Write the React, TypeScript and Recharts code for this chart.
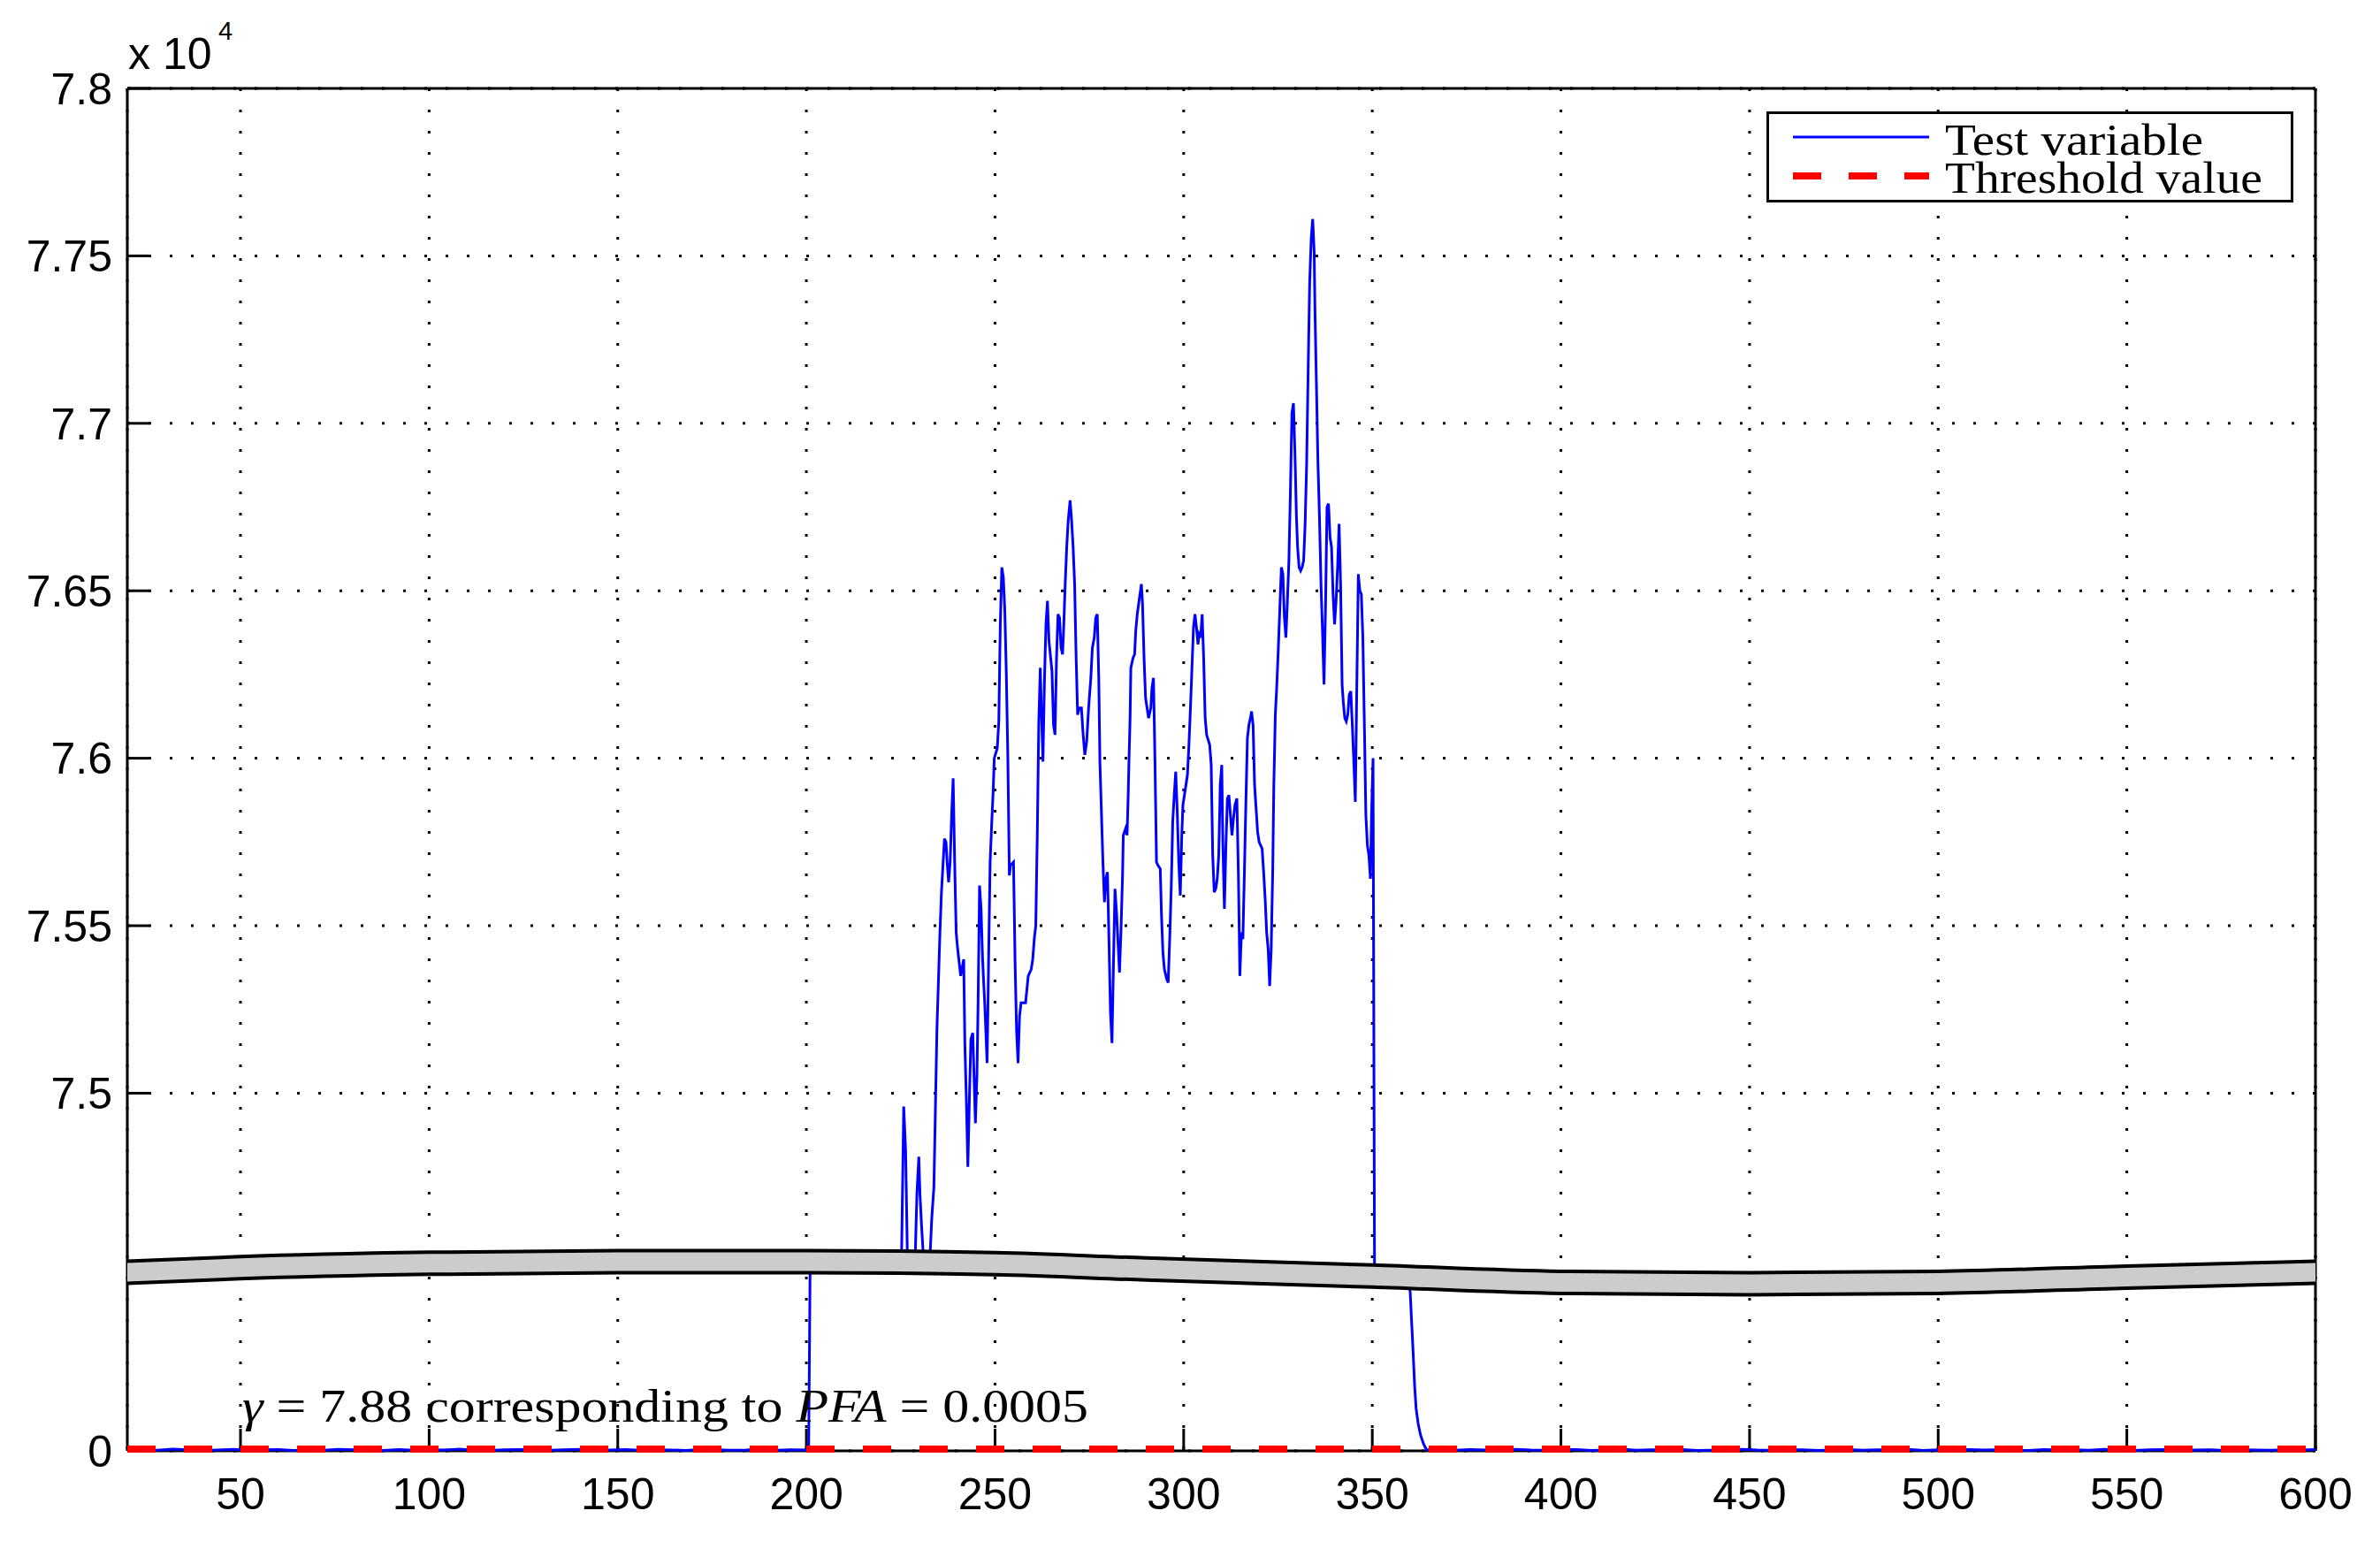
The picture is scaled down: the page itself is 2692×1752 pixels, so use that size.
import { Area, CartesianGrid, ComposedChart, Legend, Line, XAxis, YAxis } from 'recharts'

// test variable before the burst, raw units, x = 20, 24, ... 200
const quietBefore = [
  4, 6, 3, 8, 5, 2, 4, 7, 3, 5, 6, 2, 4, 3, 7, 5, 4, 2, 6, 3, 5, 4, 8, 3, 2, 5, 6, 4, 3, 5, 7, 2, 4, 6, 3, 5,
  4, 2, 6, 5, 3, 4, 7, 3, 5, 4,
]

// jump into the break (raw units, hidden under the band)
const riseIn: [number, number][] = [
  [200.6, 2], [201, 74100], [208, 74200], [216, 74150], [224.6, 74250], [225.2, 74300],
]

// burst above the break, [x, value x 1e4]
const burstRise: [number, number][] = [
  [225.8, 7.496], [226.3, 7.483], [226.8, 7.44], [228.8, 7.44], [229.3, 7.47], [229.8, 7.481], [230.1, 7.47],
  [230.5, 7.461], [231.1, 7.44], [232.7, 7.44], [233.2, 7.462], [233.8, 7.472], [234.6, 7.519], [235.4, 7.548],
  [235.8, 7.56], [236.6, 7.576], [237.0, 7.575], [237.3, 7.569], [237.7, 7.563], [238.1, 7.569], [238.5, 7.583],
  [238.9, 7.594], [239.3, 7.569], [239.7, 7.548], [240.1, 7.543], [240.9, 7.535], [241.7, 7.54], [242.0, 7.515],
  [242.4, 7.498], [242.8, 7.478], [243.2, 7.498], [243.6, 7.516], [244.1, 7.518], [244.8, 7.491], [245.2, 7.505],
  [245.5, 7.526], [245.9, 7.562], [246.3, 7.555], [246.7, 7.54], [247.3, 7.526], [247.9, 7.509], [248.3, 7.54],
  [248.7, 7.569], [249.1, 7.58], [249.5, 7.59], [249.8, 7.6], [250.6, 7.603], [251.0, 7.611], [251.4, 7.64],
  [251.8, 7.657], [252.2, 7.654], [252.6, 7.644], [253.0, 7.625], [253.4, 7.6], [253.8, 7.565], [254.1, 7.568],
  [254.9, 7.569], [255.3, 7.54], [255.7, 7.519], [256.1, 7.509], [256.5, 7.523], [256.9, 7.527], [258.1, 7.527],
  [258.8, 7.535], [259.6, 7.537], [260.0, 7.54], [260.4, 7.546], [260.8, 7.55], [261.2, 7.577], [261.6, 7.611],
  [262.0, 7.627], [262.3, 7.614], [262.7, 7.599], [263.1, 7.623], [263.5, 7.64], [263.9, 7.647], [264.3, 7.635],
]

const burstMiddle: [number, number][] = [
  [265.1, 7.626], [265.5, 7.61], [265.9, 7.607], [266.3, 7.63], [266.7, 7.643], [267.1, 7.642], [267.5, 7.633],
  [267.9, 7.631], [268.2, 7.639], [268.6, 7.652], [269.0, 7.663], [269.4, 7.671], [269.9, 7.677], [270.3, 7.671],
  [270.7, 7.663], [271.1, 7.652], [271.5, 7.63], [271.9, 7.613], [272.3, 7.615], [272.9, 7.615], [273.3, 7.608],
  [273.8, 7.601], [274.3, 7.605], [274.8, 7.615], [275.4, 7.624], [275.8, 7.633], [276.3, 7.636], [276.7, 7.642],
  [277.1, 7.643], [277.5, 7.624], [277.8, 7.599], [278.2, 7.584], [278.6, 7.569], [279.0, 7.557], [279.4, 7.564],
  [279.8, 7.566], [280.2, 7.546], [280.6, 7.524], [281.0, 7.515], [281.4, 7.539], [281.8, 7.561], [282.2, 7.554],
  [282.6, 7.545], [283.0, 7.536], [283.4, 7.549], [283.8, 7.565], [284.0, 7.577], [284.6, 7.579], [285.0, 7.577],
  [285.3, 7.589], [285.5, 7.599], [285.8, 7.612], [286.0, 7.627], [286.6, 7.63], [287.0, 7.631], [287.3, 7.638],
  [287.7, 7.643], [288.3, 7.648], [288.8, 7.652], [289.1, 7.646], [289.5, 7.63], [289.9, 7.618], [290.3, 7.615],
  [290.7, 7.612], [291.3, 7.615], [291.6, 7.621], [292.0, 7.624], [292.4, 7.599], [292.8, 7.569], [293.2, 7.568],
  [293.8, 7.567], [294.1, 7.554], [294.5, 7.542], [294.9, 7.537], [295.5, 7.534], [295.9, 7.533], [296.3, 7.546],
  [296.7, 7.561], [297.1, 7.581], [297.5, 7.589], [297.9, 7.596], [298.3, 7.584], [298.7, 7.569], [299.1, 7.559],
  [299.5, 7.577], [299.8, 7.586], [300.2, 7.589], [300.6, 7.592], [301.0, 7.595], [301.4, 7.604], [301.8, 7.615],
  [302.2, 7.627], [302.6, 7.639], [303.0, 7.643], [303.4, 7.639], [303.8, 7.634], [304.1, 7.637], [304.5, 7.636],
  [304.9, 7.643], [305.3, 7.63], [305.7, 7.612], [306.1, 7.607], [306.9, 7.604],
]

const burstPeak: [number, number][] = [
  [307.3, 7.598], [307.7, 7.571], [308.1, 7.56], [308.5, 7.561], [308.9, 7.564], [309.3, 7.571], [309.7, 7.592],
  [310.1, 7.598], [310.4, 7.574], [310.8, 7.555], [311.2, 7.574], [311.6, 7.588], [312.0, 7.589], [312.4, 7.583],
  [312.8, 7.577], [313.2, 7.582], [313.6, 7.586], [314.1, 7.588], [314.5, 7.566], [314.9, 7.535], [315.3, 7.548],
  [315.7, 7.546], [316.1, 7.566], [316.5, 7.587], [316.9, 7.606], [317.3, 7.61], [317.7, 7.612], [318.0, 7.614],
  [318.4, 7.61], [318.8, 7.592], [319.2, 7.585], [319.6, 7.578], [320.0, 7.575], [320.4, 7.574], [320.8, 7.573],
  [321.2, 7.566], [321.6, 7.558], [322.0, 7.548], [322.4, 7.543], [322.8, 7.532], [323.2, 7.543], [323.6, 7.566],
  [323.9, 7.592], [324.3, 7.613], [324.7, 7.622], [325.1, 7.633], [325.5, 7.645], [325.9, 7.657], [326.3, 7.655],
  [326.7, 7.642], [327.1, 7.636], [327.5, 7.647], [327.9, 7.659], [328.3, 7.68], [328.7, 7.703], [329.1, 7.706],
  [329.5, 7.691], [329.9, 7.672], [330.2, 7.663], [330.6, 7.657], [331.0, 7.656], [331.4, 7.657], [331.8, 7.659],
  [332.2, 7.67], [332.6, 7.688], [333.0, 7.716], [333.4, 7.742], [333.8, 7.755], [334.2, 7.761], [334.6, 7.751],
  [334.8, 7.734], [335.2, 7.711], [335.6, 7.688], [336.0, 7.672], [336.4, 7.652], [336.8, 7.638], [337.2, 7.622],
  [337.6, 7.645], [338.0, 7.675], [338.4, 7.676], [338.8, 7.666], [339.2, 7.663], [339.6, 7.649], [340.0, 7.64],
  [340.4, 7.647], [340.8, 7.657], [341.2, 7.67], [341.6, 7.652], [342.0, 7.622], [342.3, 7.617], [342.7, 7.612],
  [343.1, 7.611], [343.5, 7.613], [343.9, 7.619], [344.3, 7.62], [344.7, 7.61], [345.1, 7.599], [345.5, 7.587],
  [345.9, 7.622], [346.3, 7.655], [346.7, 7.65], [347.1, 7.649], [347.5, 7.636], [347.9, 7.61], [348.3, 7.583],
  [348.7, 7.574], [349.1, 7.571], [349.5, 7.564], [349.8, 7.583], [350.2, 7.6],
]

// drop back through the break and decay to zero (raw units)
const fallOut: [number, number][] = [
  [350.6, 70000], [354, 42000], [357, 15000], [359.6, 2000], [360.05, 734], [360.45, 590], [360.83, 455],
  [361.22, 303], [361.61, 197], [362.15, 127], [362.78, 74], [363.56, 33], [364.34, 6], [366, 4],
]

// after the burst, raw units, x = 368, 372, ... 600
const quietAfter = [
  5, 3, 6, 4, 2, 7, 4, 3, 5, 6, 2, 4, 8, 3, 5, 4, 6, 2, 3, 5, 7, 4, 3, 6, 5, 2, 4, 6, 3, 5, 4, 7, 2, 5, 3, 6,
  4, 5, 3, 2, 6, 4, 5, 3, 7, 4, 2, 5, 6, 3, 4, 5, 2, 6, 4, 3, 5, 4, 6,
]

const THRESHOLD = 7.88

const xTicks = [50, 100, 150, 200, 250, 300, 350, 400, 450, 500, 550, 600]
const yTicks = [7.5, 7.55, 7.6, 7.65, 7.7, 7.75, 7.8]

// axis break band, centre in units of 1e4
const bandX = [20, 50, 100, 150, 200, 250, 290, 350, 400, 450, 500, 550, 600]
const bandMid = [7.4465, 7.4479, 7.4492, 7.4497, 7.4497, 7.4491, 7.4475, 7.4454, 7.4435, 7.4431, 7.4435, 7.4451, 7.4465]

// broken axis: lower part 0..LOWER_MAX below the band, upper part in 1e4 units
const ZERO_D = 7.3932
const LOWER_TOP_D = 7.4415
const LOWER_MAX = 750
const UPPER_MIN = 74500
const BAND_HALF = 0.0033

function bandAt(x: number) {
  for (let i = 1; i < bandX.length; i++) {
    if (x <= bandX[i]) {
      const t = (x - bandX[i - 1]) / (bandX[i] - bandX[i - 1])
      return bandMid[i - 1] + t * (bandMid[i] - bandMid[i - 1])
    }
  }
  return bandMid[bandMid.length - 1]
}

function toAxis(x: number, raw: number) {
  if (raw >= UPPER_MIN) return raw / 1e4
  if (raw <= LOWER_MAX) return ZERO_D + (raw / LOWER_MAX) * (LOWER_TOP_D - ZERO_D)
  return bandAt(x)
}

const testData = [
  ...quietBefore.map((v, i) => [20 + 4 * i, v] as [number, number]),
  ...riseIn,
  ...[...burstRise, ...burstMiddle, ...burstPeak].map(([x, v]) => [x, v * 1e4] as [number, number]),
  ...fallOut,
  ...quietAfter.map((v, i) => [368 + 4 * i, v] as [number, number]),
].map(([x, raw]) => ({ x, y: toAxis(x, raw) }))

const thresholdData = [20, 600].map((x) => ({ x, y: toAxis(x, THRESHOLD) }))

const bandData = bandX.map((x, i) => ({ x, band: [bandMid[i] - BAND_HALF, bandMid[i] + BAND_HALF] }))

const sans = '"Liberation Sans", Arial, Helvetica, sans-serif'
const serif = '"Liberation Serif", "Times New Roman", serif'
const frame = { stroke: '#000', strokeWidth: 3 }

function LegendBox({ payload }: { payload?: { value: string; color?: string }[] }) {
  const items = (payload ?? []).filter((p) => p.value === 'Test variable' || p.value === 'Threshold value')
  const widths: Record<string, number> = { 'Test variable': 292, 'Threshold value': 359 }
  return (
    <svg width={596} height={103}>
      <rect x={1.5} y={1.5} width={593} height={100} fill="#fff" stroke="#000" strokeWidth={3} />
      {items.map((p, i) => (
        <g key={p.value}>
          <line
            x1={30}
            x2={184}
            y1={29 + i * 44}
            y2={29 + i * 44}
            stroke={i === 0 ? '#0000ff' : '#ff0000'}
            strokeWidth={i === 0 ? 3 : 8}
            strokeDasharray={i === 0 ? undefined : '32 31'}
          />
          <text
            x={202}
            y={49 + i * 43}
            fontFamily={serif}
            fontSize={50}
            fill="#000"
            textLength={widths[p.value]}
            lengthAdjust="spacingAndGlyphs"
          >
            {p.value}
          </text>
        </g>
      ))}
    </svg>
  )
}

export default function App() {
  return (
    <div style={{ position: 'relative', width: 2692, height: 1752, background: '#fff' }}>
      <style>{'body{margin:0}'}</style>
      <ComposedChart width={2692} height={1752} margin={{ top: 90, right: 72, bottom: 11, left: 0 }}>
        <CartesianGrid stroke="#000" strokeWidth={3} strokeDasharray="3 21" />
        <XAxis
          dataKey="x"
          type="number"
          domain={[20, 600]}
          ticks={xTicks}
          interval={0}
          height={100}
          tickSize={-25}
          tickMargin={55}
          axisLine={frame}
          tickLine={frame}
          tick={{ fill: '#000', fontSize: 50, fontFamily: sans }}
        />
        <XAxis
          xAxisId="top"
          orientation="top"
          dataKey="x"
          type="number"
          domain={[20, 600]}
          ticks={xTicks}
          interval={0}
          height={10}
          tickSize={-25}
          tick={false}
          axisLine={frame}
          tickLine={frame}
        />
        <YAxis
          type="number"
          domain={[ZERO_D, 7.8]}
          ticks={[ZERO_D, ...yTicks]}
          interval={0}
          width={144}
          tickSize={-25}
          tickMargin={42}
          tickFormatter={(v: number) => (v === ZERO_D ? '0' : String(v))}
          axisLine={frame}
          tickLine={frame}
          tick={{ fill: '#000', fontSize: 50, fontFamily: sans }}
        />
        <YAxis
          yAxisId="right"
          orientation="right"
          type="number"
          domain={[0, 1]}
          width={1}
          tick={false}
          tickLine={false}
          axisLine={frame}
        />
        <Line
          data={testData}
          dataKey="y"
          name="Test variable"
          type="linear"
          stroke="#0000ff"
          strokeWidth={3}
          dot={false}
          activeDot={false}
          isAnimationActive={false}
          zIndex={550}
        />
        <Area
          data={bandData}
          dataKey="band"
          type="monotone"
          stroke="#000"
          strokeWidth={4}
          fill="#cccccc"
          fillOpacity={1}
          legendType="none"
          activeDot={false}
          isAnimationActive={false}
          zIndex={560}
        />
        <Line
          data={thresholdData}
          dataKey="y"
          name="Threshold value"
          type="linear"
          stroke="#ff0000"
          strokeWidth={8}
          strokeDasharray="32 32"
          dot={false}
          activeDot={false}
          isAnimationActive={false}
          zIndex={650}
        />
        <Legend
          layout="horizontal"
          verticalAlign="middle"
          align="center"
          wrapperStyle={{ position: 'absolute', left: 1998, top: 126, width: 596, height: 103 }}
          content={(props: any) => <LegendBox payload={props.payload} />}
        />
      </ComposedChart>
      <svg
        width={2692}
        height={1752}
        style={{ position: 'absolute', left: 0, top: 0, pointerEvents: 'none' }}
      >
        <text x={145} y={78} fontFamily={sans} fontSize={50} fill="#000">
          x 10
        </text>
        <text x={247} y={45} fontFamily={sans} fontSize={29} fill="#000">
          4
        </text>
        <text
          x={274}
          y={1608}
          fontFamily={serif}
          fontSize={52}
          fill="#000"
          textLength={957}
          lengthAdjust="spacingAndGlyphs"
        >
          <tspan fontStyle="italic">γ</tspan> = 7.88 corresponding to <tspan fontStyle="italic">PFA</tspan> = 0.0005
        </text>
      </svg>
    </div>
  )
}
